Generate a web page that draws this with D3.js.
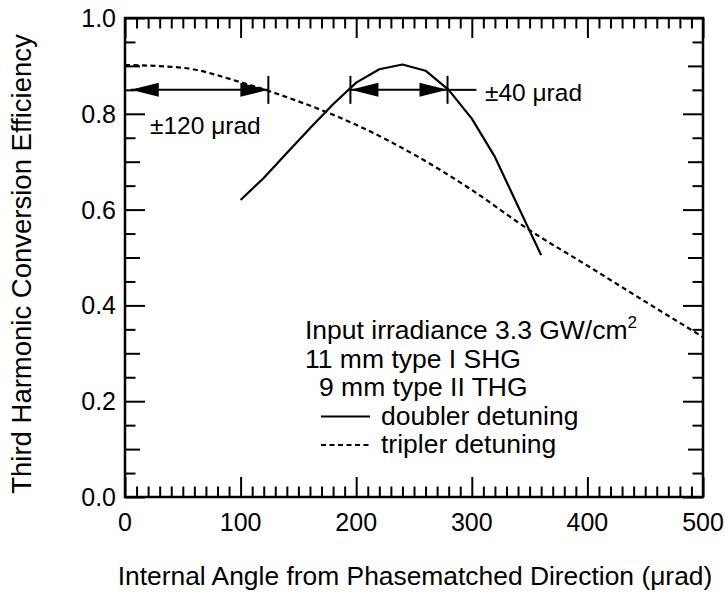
<!DOCTYPE html>
<html lang="en">
<head>
  <meta charset="UTF-8">
  <title>Third Harmonic Conversion Efficiency</title>
  <script src="https://d3js.org/d3.v7.min.js"></script>
  <style>
    body {
      margin: 0;
      background: #fff;
    }
    svg text {
      font-family: "Liberation Sans", Arial, Helvetica, sans-serif;
      fill: #000;
    }
  </style>
</head>
<body>
  <svg id="chart" width="725" height="596"></svg>

  <script>
    // doubler detuning (solid), tripler detuning (dashed)
    const doublerAngle = [100, 120, 140, 160, 180, 200, 220, 240, 260, 280, 300, 320, 340, 360];
    const doublerEff   = [0.62, 0.666, 0.718, 0.77, 0.82, 0.865, 0.893, 0.903, 0.89, 0.85, 0.79, 0.71, 0.607, 0.505];

    const triplerAngle = [0, 50, 100, 150, 200, 250, 300, 350, 400, 450, 500];
    const triplerEff   = [0.902, 0.896, 0.866, 0.826, 0.777, 0.715, 0.641, 0.557, 0.483, 0.408, 0.334];

    // acceptance width markers at 0.85
    const arrowLevel = 0.85;
    const leftArrow = [5, 124];
    const rightArrow = [195, 279];
    const markerBars = [124, 195, 279];
    const rightArrowTail = 304;

    const xTicks = [0, 100, 200, 300, 400, 500];
    const yTicks = [0.0, 0.2, 0.4, 0.6, 0.8, 1.0];

    const legendLines = [
      "Input irradiance 3.3 GW/cm",
      "11 mm type I SHG",
      "9 mm type II THG",
      "doubler detuning",
      "tripler detuning"
    ];

    const svg = d3.select("#chart");
    const margin = { left: 125, right: 22, top: 18, bottom: 99 };
    const width = +svg.attr("width");
    const height = +svg.attr("height");

    const x = d3.scaleLinear().domain([0, 500]).range([margin.left, width - margin.right]);
    const y = d3.scaleLinear().domain([0, 1]).range([height - margin.bottom, margin.top]);

    const fs = 25;

    // tick sets
    const xMinor = d3.range(10, 500, 10).filter(v => v % 100 !== 0);
    const yMid = [0.1, 0.3, 0.5, 0.7, 0.9];
    const yMinor = d3.range(0.05, 1, 0.1).map(v => +v.toFixed(2));

    function tickAxis(axisFn, scale, values, len) {
      return axisFn(scale).tickValues(values).tickSize(-len).tickFormat("");
    }

    const x0 = height - margin.bottom, x1 = margin.top;
    const yl = margin.left, yr = width - margin.right;

    const axes = svg.append("g").attr("class", "axes");

    // bottom + top
    [[d3.axisBottom, x0], [d3.axisTop, x1]].forEach(([fn, pos]) => {
      axes.append("g").attr("transform", `translate(0,${pos})`)
        .call(tickAxis(fn, x, xTicks, 20));
      axes.append("g").attr("transform", `translate(0,${pos})`)
        .call(tickAxis(fn, x, xMinor, 10.5));
    });
    // left + right
    [[d3.axisLeft, yl], [d3.axisRight, yr]].forEach(([fn, pos]) => {
      axes.append("g").attr("transform", `translate(${pos},0)`)
        .call(tickAxis(fn, y, yTicks, 20));
      axes.append("g").attr("transform", `translate(${pos},0)`)
        .call(tickAxis(fn, y, yMid, 15));
      axes.append("g").attr("transform", `translate(${pos},0)`)
        .call(tickAxis(fn, y, yMinor, 10.5));
    });
    axes.selectAll(".domain").remove();
    axes.selectAll(".tick line").attr("stroke", "#000").attr("stroke-width", 2);

    // frame
    svg.append("rect")
      .attr("x", yl).attr("y", x1)
      .attr("width", yr - yl).attr("height", x0 - x1)
      .attr("fill", "none").attr("stroke", "#000").attr("stroke-width", 2.5);

    // tick labels
    svg.append("g").selectAll("text")
      .data(xTicks).join("text")
      .attr("x", d => x(d)).attr("y", x0 + 34)
      .attr("text-anchor", "middle").attr("font-size", fs)
      .text(d => d);

    svg.append("g").selectAll("text")
      .data(yTicks).join("text")
      .attr("x", yl - 9).attr("y", d => y(d) + 9)
      .attr("text-anchor", "end").attr("font-size", fs)
      .text(d => d3.format(".1f")(d));

    // axis titles
    svg.append("text")
      .attr("x", 415).attr("y", 585)
      .attr("text-anchor", "middle").attr("font-size", 26.4)
      .text("Internal Angle from Phasematched Direction (\u03BCrad)");

    svg.append("text")
      .attr("transform", "translate(31,264) rotate(-90)")
      .attr("text-anchor", "middle").attr("font-size", 27.5)
      .text("Third Harmonic Conversion Efficiency");

    // curves
    const line = d3.line().x(d => x(d[0])).y(d => y(d[1]));

    svg.append("path")
      .datum(doublerAngle.map((a, i) => [a, doublerEff[i]]))
      .attr("d", line)
      .attr("fill", "none").attr("stroke", "#000").attr("stroke-width", 2.2)
      .attr("stroke-linejoin", "round");

    svg.append("path")
      .datum(triplerAngle.map((a, i) => [a, triplerEff[i]]))
      .attr("d", line.curve(d3.curveMonotoneX))
      .attr("fill", "none").attr("stroke", "#000").attr("stroke-width", 2.2)
      .attr("stroke-dasharray", "5,3.5");

    // acceptance arrows
    const ann = svg.append("g").attr("stroke", "#000").attr("stroke-width", 2);
    const ay = y(arrowLevel);
    const headLen = 28, headHalf = 7;

    function arrowHead(tipX, dir) {
      const bx = tipX + dir * headLen;
      ann.append("polygon")
        .attr("points", `${tipX},${ay} ${bx},${ay - headHalf} ${bx},${ay + headHalf}`)
        .attr("fill", "#000").attr("stroke", "none");
    }

    [leftArrow, rightArrow].forEach(([a, b]) => {
      ann.append("line")
        .attr("x1", x(a)).attr("x2", x(b))
        .attr("y1", ay).attr("y2", ay);
      arrowHead(x(a), 1);
      arrowHead(x(b), -1);
    });
    ann.append("line")
      .attr("x1", x(rightArrow[1])).attr("x2", x(rightArrowTail))
      .attr("y1", ay).attr("y2", ay);
    ann.selectAll(".bar")
      .data(markerBars).join("line")
      .attr("class", "bar")
      .attr("x1", d => x(d)).attr("x2", d => x(d))
      .attr("y1", ay - 14).attr("y2", ay + 14);

    svg.append("text")
      .attr("x", 150).attr("y", 134).attr("font-size", 24.5)
      .text("\u00B1120 \u03BCrad");
    svg.append("text")
      .attr("x", 485).attr("y", 101).attr("font-size", 24.5)
      .text("\u00B140 \u03BCrad");

    // legend / conditions block
    const lg = svg.append("g").attr("font-size", 26.5);
    const lgX = 305, lgY0 = 339, lgStep = 28.5;

    const t0 = lg.append("text").attr("x", lgX).attr("y", lgY0).text(legendLines[0]);
    t0.append("tspan").attr("dy", -11).attr("font-size", 17).text("2");

    lg.append("text").attr("x", lgX).attr("y", lgY0 + lgStep).text(legendLines[1]);
    lg.append("text").attr("x", lgX + 14).attr("y", lgY0 + 2 * lgStep).text(legendLines[2]);

    [3, 4].forEach((k, i) => {
      const by = lgY0 + k * lgStep;
      lg.append("line")
        .attr("x1", lgX + 16).attr("x2", lgX + 65)
        .attr("y1", by - 8).attr("y2", by - 8)
        .attr("stroke", "#000").attr("stroke-width", 2.2)
        .attr("stroke-dasharray", i === 1 ? "5,3.5" : null);
      lg.append("text").attr("x", lgX + 76).attr("y", by).text(legendLines[k]);
    });
  </script>
</body>
</html>
